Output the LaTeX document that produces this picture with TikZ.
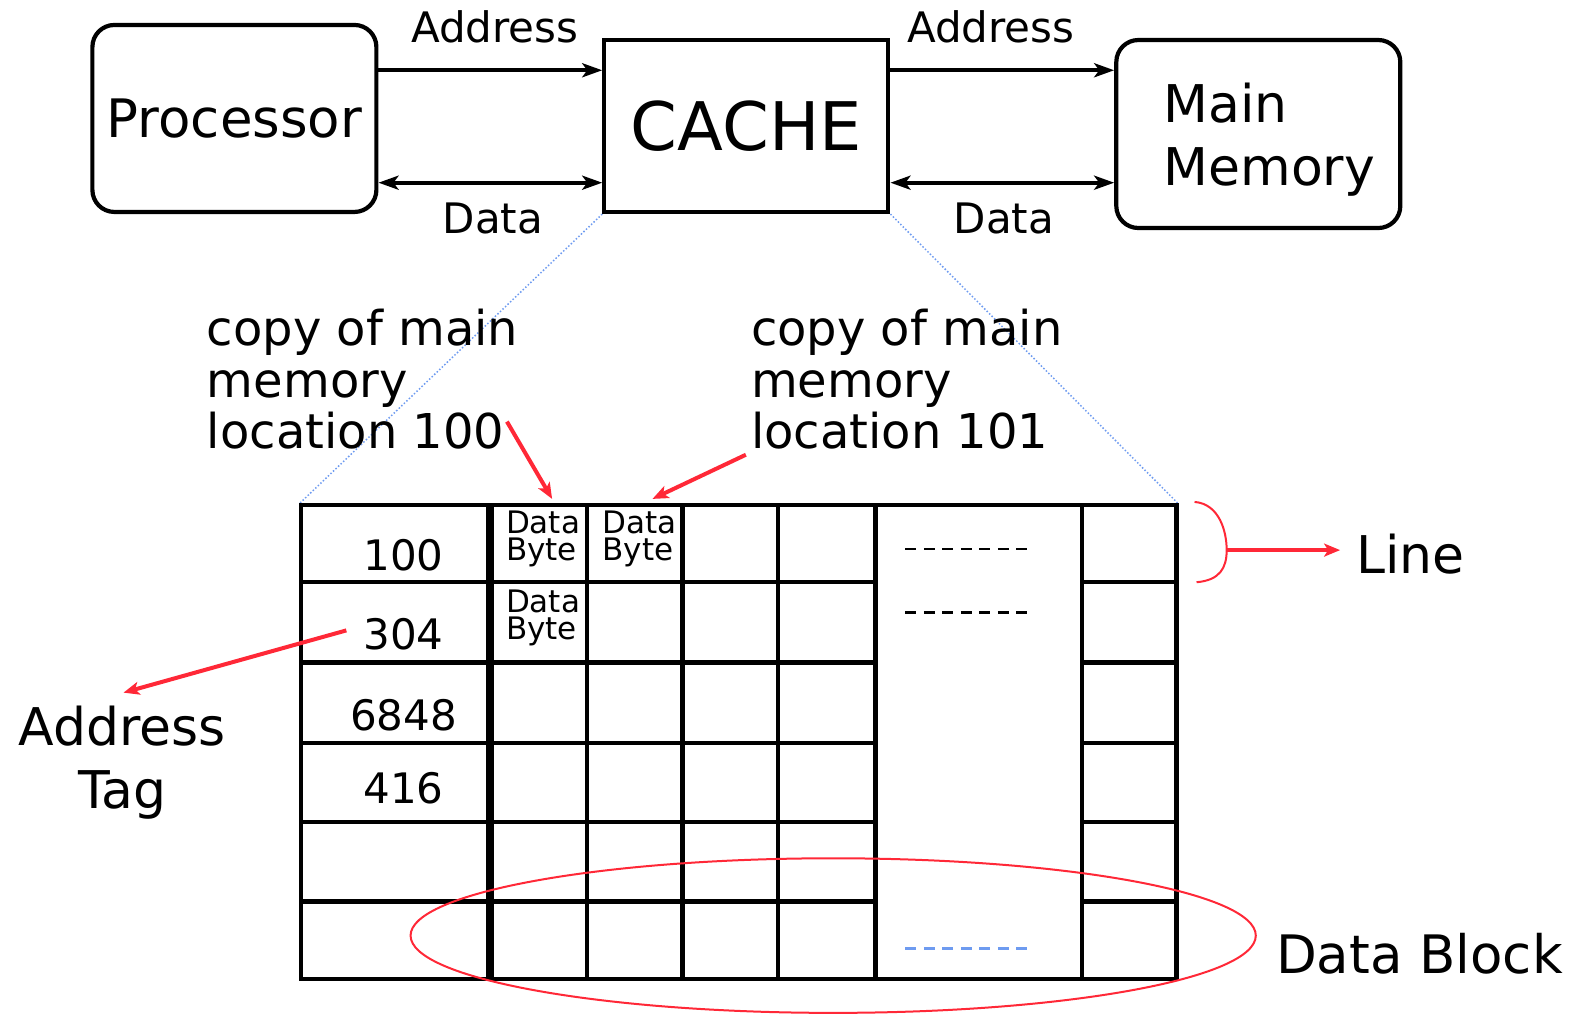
\documentclass[tikz,border=0pt]{standalone}
\usepackage{fontspec}
\setmainfont{DejaVu Sans}
\usetikzlibrary{arrows.meta}
\definecolor{annot}{RGB}{255,40,55}
\definecolor{zoomblue}{RGB}{110,155,240}
\tikzset{
  unitbox/.style={draw, line width=4.2pt, minimum width=284pt, inner sep=0pt},
  blk/.style={line width=4pt, -{Stealth[length=20pt,width=14pt,inset=5pt]}},
  blkboth/.style={line width=4pt, {Stealth[length=20pt,width=14pt,inset=5pt]}-{Stealth[length=20pt,width=14pt,inset=5pt]}},
  redarrow/.style={annot, line width=4pt, -{Stealth[length=16pt,width=13pt,inset=4pt]}},
  grid/.style={line width=4.4pt, line cap=rect},
  lbl/.style={inner sep=0pt, font=\fontsize{42}{48}\selectfont},
  big/.style={inner sep=0pt, font=\fontsize{48}{51.5}\selectfont, align=left},
  tag/.style={inner sep=0pt, font=\fontsize{42}{48}\selectfont},
  byte/.style={inner sep=0pt, font=\fontsize{31}{27}\selectfont, align=left},
  fill7/.style={line width=2.5pt, dash pattern=on 11pt off 7.5pt}
}
\begin{document}
\begin{tikzpicture}[x=1.00383pt, y=-1.00383pt]
\useasboundingbox (0,0) rectangle (1568,1010);

% top row: processor, cache, main memory
\node[unitbox, rounded corners=22pt, minimum height=187pt, font=\fontsize{53}{60}\selectfont] (proc) at (233.5,118) {Processor};
\node[unitbox, minimum height=172pt, font=\fontsize{67}{70}\selectfont] (cache) at (743.5,125.5) {CACHE};
\node[unitbox, rounded corners=22pt, minimum height=188pt] (mem) at (1253.5,133.5) {};
\node[inner sep=0pt, anchor=west, align=left, font=\fontsize{52}{63}\selectfont] (memtxt) at (1159,139) {Main\\Memory};

% buses
\coordinate (pa) at (proc.east |- 0,70);
\coordinate (ca) at (cache.west |- 0,70);
\coordinate (pd) at (proc.east |- 0,182);
\coordinate (cd) at (cache.west |- 0,182);
\coordinate (ca2) at (cache.east |- 0,70);
\coordinate (ma) at (mem.west |- 0,70);
\coordinate (cd2) at (cache.east |- 0,182);
\coordinate (md) at (mem.west |- 0,182);
\draw[blk] (pa) -- (ca);
\draw[blkboth] (pd) -- (cd);
\draw[blk] (ca2) -- (ma);
\draw[blkboth] (cd2) -- (md);
\node[lbl] (la1) at (493,27) {Address};
\node[lbl] (ld1) at (491,218) {Data};
\node[lbl] (la2) at (987,27) {Address};
\node[lbl] (ld2) at (1000,218) {Data};

% zoom lines from cache to the table
\coordinate (tl) at (299,501);
\coordinate (tr) at (1173,501);
\draw[zoomblue, line width=1.5pt, dotted] (cache.south west) -- (tl);
\draw[zoomblue, line width=1.5pt, dotted] (cache.south east) -- (tr);

% cache table
\foreach \y in {580,660,740,819,898} {
  \draw[grid] (300,\y) -- (872,\y);
  \draw[grid] (1078,\y) -- (1172,\y);
}
\draw[grid] (300,503) -- (1172,503);
\draw[grid] (300,975) -- (1172,975);
\foreach \x in {300,585,680,775,872,1078,1172}
  \draw[grid] (\x,503) -- (\x,975);
\draw[line width=8pt] (488,503) -- (488,975);

% tags
\node[tag] (t1) at (402,553) {100};
\node[tag] (t2) at (402,632) {304};
\node[tag] (t3) at (402,712) {6848};
\node[tag] (t4) at (402,785) {416};

% data bytes
\node[byte] (b1) at (541,537) {Data\\Byte};
\node[byte] (b2) at (637,537) {Data\\Byte};
\node[byte] (b3) at (541,616) {Data\\Byte};

% elided columns
\draw[fill7] (902,547) -- (1025,547);
\draw[fill7] (902,610) -- (1025,610);
\draw[fill7, zoomblue] (902,945) -- (1025,945);

% annotations
\node[big, anchor=north west] (c100) at (206,308) {copy of main\\memory\\location 100};
\node[big, anchor=north west] (c101) at (748,308) {copy of main\\memory\\location 101};
\coordinate (c100e) at (505,420);
\coordinate (c101e) at (743,453);
\coordinate (byte1) at (550,497);
\coordinate (byte2) at (650,497);
\draw[redarrow] (c100e) -- (byte1);
\draw[redarrow] (c101e) -- (byte2);

\node[inner sep=0pt, align=center, font=\fontsize{52}{63}\selectfont] (atag) at (122,760) {Address\\Tag};
\coordinate (t2w) at (345,628);
\coordinate (atagn) at (123,690);
\draw[redarrow] (t2w) -- (atagn);

% line bracket
\coordinate (brk) at (1222,548);
\draw[annot, line width=2pt] (1190,500) .. controls (1215,502) and (1222,530) .. (brk)
  .. controls (1222,566) and (1215,578) .. (1192,580);
\node[inner sep=0pt, anchor=west, font=\fontsize{52}{56}\selectfont] (line) at (1351,552) {Line};
\coordinate (linew) at (1335,548);
\draw[redarrow] (brk) -- (linew);

% data block
\draw[annot, line width=2pt] (830,932) ellipse [x radius=421, y radius=77];
\node[inner sep=0pt, anchor=west, font=\fontsize{53}{56}\selectfont] (dblock) at (1271,950) {Data Block};
\end{tikzpicture}
\end{document}
